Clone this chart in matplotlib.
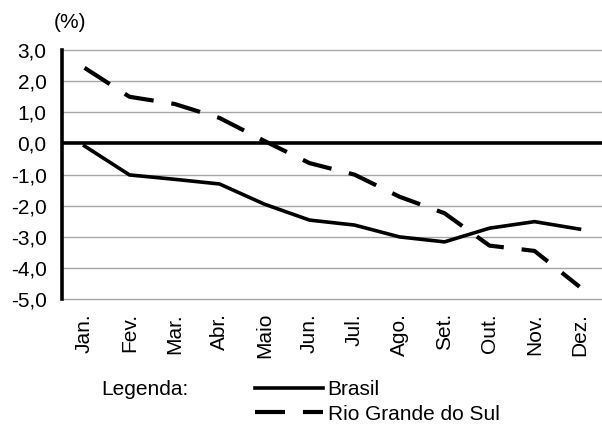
import matplotlib
matplotlib.use("Agg")
import matplotlib.pyplot as plt

plt.rcParams['font.family'] = ['Liberation Sans', 'DejaVu Sans']

months = ["Jan.", "Fev.", "Mar.", "Abr.", "Maio", "Jun.", "Jul.",
          "Ago.", "Set.", "Out.", "Nov.", "Dez."]
brasil = [-0.08, -1.01, -1.15, -1.3, -1.95, -2.46, -2.62, -3.0, -3.16, -2.72, -2.51, -2.75]
rs = [2.43, 1.5, 1.27, 0.82, 0.08, -0.63, -1.0, -1.71, -2.24, -3.28, -3.45, -4.6]
yticks = [3, 2, 1, 0, -1, -2, -3, -4, -5]
ytick_labels = ["3,0", "2,0", "1,0", "0,0", "-1,0", "-2,0", "-3,0", "-4,0", "-5,0"]

fs = 15

fig = plt.figure(figsize=(6.02, 4.28), dpi=100)
ax = fig.add_axes([0.103, 0.301, 0.897, 0.582])

for y in yticks:
    if y != 0:
        ax.axhline(y, color="#a6a6a6", linewidth=1.0, zorder=1, clip_on=False)
ax.axhline(0, color="black", linewidth=2.6, zorder=2)

x = list(range(len(months)))
ax.plot(x, brasil, color="black", linewidth=2.6, label="Brasil", zorder=3)
ax.plot(x, rs, color="black", linewidth=3.0, dashes=(7.2, 4.3),
        label="Rio Grande do Sul", zorder=3)

ax.set_xlim(-0.5, 11.5)
ax.set_ylim(-5, 3)
ax.set_xticks(x)
ax.set_xticklabels(months, rotation=90, fontsize=fs)
ax.set_yticks(yticks)
ax.set_yticklabels(ytick_labels, fontsize=fs)
ax.tick_params(axis="y", length=0, pad=11)
ax.tick_params(axis="x", length=0, pad=10)

for s in ["top", "right", "bottom"]:
    ax.spines[s].set_visible(False)
ax.spines["left"].set_linewidth(2.6)

fig.text(0.09, 0.948, "(%)", fontsize=fs, ha="left", va="center")
fig.text(0.168, 0.089, "Legenda:", fontsize=fs, ha="left", va="center")

leg = ax.legend(loc="upper left", bbox_to_anchor=(0.424, 0.111),
                bbox_transform=fig.transFigure, frameon=False, fontsize=fs,
                handlelength=3.27, handletextpad=0.2, labelspacing=0.25,
                borderpad=0, borderaxespad=0)

fig.savefig("out.png", dpi=100)
